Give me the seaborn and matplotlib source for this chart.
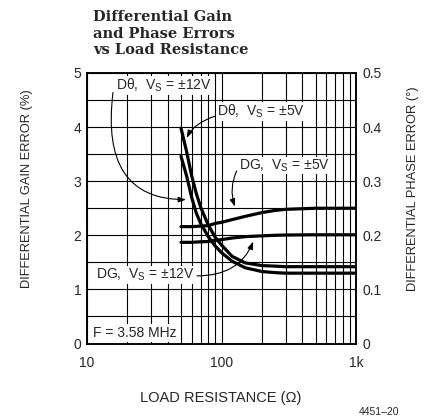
import matplotlib
matplotlib.use("Agg")
import matplotlib.pyplot as plt
import seaborn as sns
from matplotlib.ticker import FixedLocator, LogLocator, NullFormatter

# load resistance (ohms) where the curves were read
load_res = [50, 55, 60, 65, 70, 80, 90, 100, 120, 150, 200, 250, 300, 500, 1000]

# differential gain error (%)
dg_5v = [2.16, 2.16, 2.16, 2.165, 2.17, 2.18, 2.22, 2.24, 2.29, 2.35, 2.42, 2.46, 2.48, 2.50, 2.50]
dg_12v = [1.87, 1.87, 1.87, 1.875, 1.88, 1.885, 1.91, 1.92, 1.95, 1.975, 1.99, 2.0, 2.005, 2.01, 2.01]

# differential phase error (degrees)
dp_5v = [0.398, 0.355, 0.31, 0.277, 0.252, 0.218, 0.196, 0.182, 0.161, 0.149, 0.144, 0.143, 0.142, 0.142, 0.142]
dp_12v = [0.346, 0.31, 0.27, 0.241, 0.222, 0.197, 0.18, 0.168, 0.152, 0.14, 0.133, 0.131, 0.13, 0.13, 0.13]

x_ticks = [10, 100, 1000]
x_ticklabels = ["10", "100", "1k"]
gain_ticks = [0, 1, 2, 3, 4, 5]
phase_ticks = [0, 0.1, 0.2, 0.3, 0.4, 0.5]
phase_ticklabels = ["0", "0.1", "0.2", "0.3", "0.4", "0.5"]

sns.set_style("white")
plt.rcParams['font.family'] = ['Liberation Sans', 'DejaVu Sans']
plt.rcParams['font.size'] = 10

fig = plt.figure(figsize=(4.24, 4.17), dpi=100)
ax = fig.add_axes([87 / 424, 1 - 343.5 / 417, 269 / 424, 270.5 / 417])
ax.set_xscale('log')

line_kw = dict(color='black', linewidth=2.3)
sns.lineplot(x=load_res, y=dg_5v, ax=ax, **line_kw)
sns.lineplot(x=load_res, y=dg_12v, ax=ax, **line_kw)

ax2 = ax.twinx()
sns.lineplot(x=load_res, y=dp_5v, ax=ax2, **line_kw)
sns.lineplot(x=load_res, y=dp_12v, ax=ax2, **line_kw)

ax.set_xlim(10, 1000)
ax.set_ylim(0, 5)
ax2.set_ylim(0, 0.5)

ax.set_xticks(x_ticks)
ax.set_xticklabels(x_ticklabels)
ax.xaxis.set_minor_locator(LogLocator(base=10, subs=range(2, 10)))
ax.xaxis.set_minor_formatter(NullFormatter())
ax.set_yticks(gain_ticks)
ax.set_yticklabels([str(t) for t in gain_ticks])
ax.yaxis.set_minor_locator(FixedLocator([0.5, 1.5, 2.5, 3.5, 4.5]))
ax2.set_yticks(phase_ticks)
ax2.set_yticklabels(phase_ticklabels)

ax.grid(which='both', color='black', linewidth=0.8)
ax2.grid(False)
ax.tick_params(which='both', length=0)
ax.tick_params(axis='x', pad=9)
ax.tick_params(axis='y', pad=4)
ax2.tick_params(length=0, pad=5)
ax.set_xlabel('')
ax.set_ylabel('')
ax2.set_ylabel('')
for a in (ax, ax2):
    for s in a.spines.values():
        s.set_color('black')
        s.set_linewidth(1.1)

# labels with arrows
box = dict(facecolor='white', edgecolor='none', pad=0.5)
arrow = dict(arrowstyle='-|>,head_length=0.45,head_width=0.16', color='black',
             linewidth=0.8, shrinkA=0, shrinkB=0)
label_kw = dict(fontsize=10, ha='center', va='center', bbox=box, zorder=4)

ax.text(37.4, 4.77, 'Dθ,  V$_\\mathregular{S}$ = ±12V', **label_kw)
ax.annotate('', xy=(54.5, 2.66), xytext=(15.6, 4.64),
            arrowprops=dict(arrow, connectionstyle='angle3,angleA=-97,angleB=0'))

ax.text(197, 4.29, 'Dθ,  V$_\\mathregular{S}$ = ±5V', **label_kw)
ax.annotate('', xy=(55.1, 3.8), xytext=(89, 4.2),
            arrowprops=dict(arrow, connectionstyle='angle3,angleA=18,angleB=63'))

ax.text(296, 3.29, 'DG,  V$_\\mathregular{S}$ = ±5V', **label_kw)
ax.annotate('', xy=(126, 2.53), xytext=(129.7, 3.19),
            arrowprops=dict(arrow, connectionstyle='arc3,rad=0.2'))

ax.text(27, 1.27, 'DG,  V$_\\mathregular{S}$ = ±12V', **label_kw)
ax.annotate('', xy=(172, 1.885), xytext=(65.7, 1.25),
            arrowprops=dict(arrow, connectionstyle='angle3,angleA=0,angleB=68'))

ax.text(11.0, 0.19, 'F = 3.58 MHz', fontsize=10, ha='left', va='center',
        bbox=dict(facecolor='white', edgecolor='none', pad=1.5), zorder=4)

fig.text(93 / 424, 1 - 10 / 417, 'Differential Gain\nand Phase Errors\nvs Load Resistance',
         family='DejaVu Serif', fontweight='bold', fontsize=10.5, va='top', ha='left',
         linespacing=1.25)
fig.text(221 / 424, 1 - 398 / 417, 'LOAD RESISTANCE (Ω)', ha='center', va='center',
         fontsize=10.5)
fig.text(27 / 424, 1 - 189 / 417, 'DIFFERENTIAL GAIN ERROR (%)', rotation=90,
         ha='center', va='center', fontsize=9.3)
fig.text(413 / 424, 1 - 189 / 417, 'DIFFERENTIAL PHASE ERROR (°)', rotation=90,
         ha='center', va='center', fontsize=9.3)
fig.text(379 / 424, 1 - 412 / 417, '4451–20', ha='center', va='center', fontsize=7.5)

fig.savefig('out.png', dpi=100, facecolor='white')
